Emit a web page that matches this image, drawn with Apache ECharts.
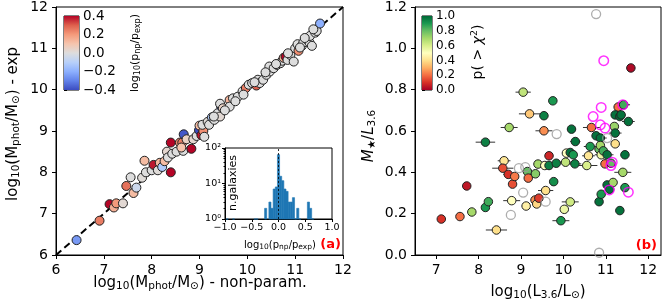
<!DOCTYPE html>
<html><head><meta charset="utf-8">
<script src="https://cdn.jsdelivr.net/npm/echarts@6/dist/echarts.min.js"></script>
<style>html,body{margin:0;padding:0;background:#fff}#c{width:665px;height:304px}</style>
</head><body><div id="c"></div>
<script>
// ---------- Panel (a): photometric masses ----------
const leftX = [6.43,6.91,7.12,7.21,7.26,7.40,7.47,7.56,7.62,7.68,7.80,7.85,7.88,8.00,8.04,8.13,8.17,8.22,8.27,8.32,8.34,8.40,8.40,8.43,8.52,8.59,8.64,8.67,8.66,8.62,8.73,8.83,8.87,8.94,8.99,9.00,9.04,9.08,9.10,9.06,9.17,9.20,9.26,9.31,9.38,9.43,9.45,9.43,9.49,9.63,9.63,9.70,9.80,9.90,9.97,10.03,10.10,10.19,10.22,10.26,10.33,10.40,10.47,10.46,10.55,10.62,10.69,10.73,10.76,10.80,10.84,10.90,10.97,11.00,11.05,11.07,11.14,11.17,11.24,11.30,11.31,11.35,11.42,11.45,11.52,11.38,9.53,9.75,10.15,10.60,10.85,11.10,11.20,9.92,9.30,10.38];
const leftY = [6.36,6.83,7.23,7.15,7.25,7.25,7.67,7.88,7.50,7.63,7.87,8.28,8.00,8.05,8.18,8.05,8.23,8.13,8.27,8.50,8.36,8.72,8.00,8.45,8.50,8.72,8.72,8.92,8.52,8.60,8.80,8.57,8.80,8.88,9.02,9.13,8.90,9.00,8.86,9.15,9.22,9.15,9.33,9.27,9.43,9.35,9.60,9.66,9.55,9.75,9.59,9.79,9.83,9.96,10.04,10.12,10.16,10.10,10.24,10.16,10.24,10.36,10.44,10.56,10.52,10.60,10.64,10.70,10.77,10.80,10.72,10.84,10.68,11.00,11.10,10.94,11.06,11.14,11.22,11.14,11.30,11.06,11.38,11.42,11.60,11.46,9.50,9.72,10.18,10.62,10.88,11.02,11.25,9.88,9.35,10.42];
const leftC = [-0.25,0.25,0.40,0.15,0.20,0.02,0.27,0.00,0.12,-0.05,0.01,0.12,0.00,0.00,0.38,0.01,0.13,-0.12,0.12,0.03,0.00,0.40,0.40,0.00,0.00,0.22,0.25,-0.38,0.00,0.10,0.05,0.40,0.03,0.00,-0.40,0.12,0.38,0.22,0.00,0.00,0.01,0.00,-0.12,0.00,0.00,0.02,-0.35,0.00,0.05,0.14,0.00,0.00,0.00,0.00,0.25,0.00,0.00,0.30,0.00,0.00,0.00,0.00,0.00,0.00,0.00,0.00,0.00,0.00,0.15,0.40,0.00,0.00,0.00,0.00,0.00,0.22,0.00,0.00,0.00,0.00,0.00,0.00,0.00,0.00,-0.20,0.00,0.00,0.00,0.00,0.00,0.00,0.00,0.00,0.00,0.00,0.00];
const oneToOne = [6, 12];
const leftTicks = [6,7,8,9,10,11,12];

// Inset histogram of log10(p_np/p_exp)
const histBinStart = [-0.98,-0.86,-0.46,-0.42,-0.26,-0.18,-0.14,-0.10,-0.06,-0.02,0.02,0.06,0.10,0.14,0.18,0.22,0.26,0.30,0.34,0.38,0.54,0.58,0.62];
const histCount    = [1,1,1,1,2,3,2,7,8,65,16,12,7,6,3,3,4,1,2,1,3,2,1];
const histBinWidth = 0.04;
const insetXTicks = [-1.0,-0.5,0.0,0.5,1.0];

// ---------- Panel (b): M/L vs luminosity ----------
const rightX = [7.12,7.56,7.72,7.84,8.16,8.23,8.16,8.42,8.60,8.57,8.70,8.80,8.85,8.72,8.78,9.05,9.20,9.15,9.17,9.12,9.33,9.37,9.42,9.34,9.40,9.56,9.54,9.54,9.58,9.66,9.66,9.83,9.77,9.75,9.94,10.02,10.16,10.05,10.07,10.16,10.23,10.27,10.19,10.28,10.55,10.59,10.66,10.63,10.77,10.87,10.84,10.87,10.89,10.94,11.03,10.98,10.84,10.89,11.03,11.09,11.17,11.12,11.20,11.22,11.22,11.29,11.22,11.33,11.36,11.42,11.53,11.45,11.40,11.45,11.33,11.59];
const rightY = [0.174,0.186,0.334,0.208,0.230,0.258,0.546,0.121,0.456,0.420,0.390,0.343,0.380,0.617,0.263,0.788,0.683,0.404,0.372,0.237,0.266,0.247,0.275,0.393,0.440,0.433,0.601,0.674,0.312,0.480,0.433,0.444,0.355,0.746,0.166,0.221,0.257,0.449,0.493,0.496,0.485,0.441,0.609,0.549,0.433,0.480,0.617,0.525,0.577,0.566,0.512,0.530,0.485,0.504,0.485,0.441,0.258,0.294,0.339,0.318,0.351,0.444,0.622,0.590,0.538,0.716,0.678,0.670,0.678,0.727,0.646,0.485,0.400,0.326,0.215,0.905];
const rightP = [0.10,0.20,0.05,0.70,0.90,0.85,0.95,0.40,0.42,0.15,0.10,0.15,0.22,0.70,0.50,0.65,0.35,0.80,0.20,0.45,0.25,0.38,0.12,0.75,0.70,0.50,0.25,0.95,0.40,0.08,0.95,0.95,0.92,0.90,0.90,0.55,0.62,0.65,0.50,0.98,0.90,0.95,0.98,0.98,0.60,0.42,0.20,0.90,0.98,0.98,0.80,0.70,0.55,0.85,0.98,0.20,0.98,0.90,0.98,0.98,0.70,0.80,0.72,0.98,0.40,0.20,0.98,0.98,0.98,0.85,0.98,0.98,0.70,0.90,0.98,0.02];
const rightErr = [0.05,0.05,0.05,0.05,0.08,0.08,0.23,0.25,0.15,0.25,0.12,0.08,0.10,0.20,0.20,0.18,0.25,0.12,0.10,0.10,0.10,0.10,0.08,0.10,0.10,0.15,0.20,0.10,0.18,0.10,0.10,0.10,0.10,0.10,0.20,0.10,0.20,0.15,0.10,0.15,0.10,0.15,0.10,0.12,0.25,0.15,0.20,0.15,0.10,0.15,0.10,0.10,0.15,0.10,0.15,0.10,0.05,0.05,0.10,0.10,0.10,0.10,0.10,0.15,0.10,0.10,0.10,0.10,0.10,0.15,0.15,0.10,0.20,0.10,0.10,0.10];
const grayX = [10.77,8.76,9.84,9.05,8.95,9.10,9.58,11.03,10.84];
const grayY = [1.166,0.194,0.585,0.302,0.420,0.425,0.258,0.566,0.011];
const magX = [10.95,10.89,10.70,10.87,10.98,11.15,11.12,11.08,11.40,11.53];
const magY = [0.940,0.714,0.670,0.630,0.614,0.449,0.433,0.315,0.727,0.304];
const rightXTicks = [7,8,9,10,11,12];

// ---------- colour maps ----------
const coolwarm = ['#3b4cc0','#6282ea','#8db0fe','#b8d0f9','#dddddd','#f5c4ad','#f49a7b','#de604d','#b40426'];
const rdylgn = ['#a50026','#d73027','#f46d43','#fdae61','#fee08b','#ffffbf','#d9ef8b','#a6d96a','#66bd63','#1a9850','#006837'];

const FONT = 'DejaVu Sans';
const chart = echarts.init(document.getElementById('c'), null, {renderer:'canvas'});

function gradient(colors){
  return new echarts.graphic.LinearGradient(0,1,0,0, colors.map((c,i)=>({offset:i/(colors.length-1), color:c})));
}
const minus = v => String(v).replace('-', '\u2212');
const baseAxis = (extra) => Object.assign({
  axisLine:{show:true, onZero:false, lineStyle:{color:'#000', width:1}},
  axisTick:{show:true, inside:false, length:4, lineStyle:{color:'#000', width:1}},
  splitLine:{show:false},
  axisLabel:{color:'#000', fontFamily:FONT, fontSize:14, margin:8}
}, extra);

const sub = (fs) => ({fontSize:fs, fontFamily:FONT, fill:'#000', lineHeight:fs, verticalAlign:'bottom'});
const sup = (fs) => ({fontSize:fs, fontFamily:FONT, fill:'#000', lineHeight:fs, verticalAlign:'top'});
const nrm = (fs, lh) => ({fontSize:fs, fontFamily:FONT, fill:'#000', lineHeight:lh});
const it  = (fs, lh) => ({fontSize:fs, fontFamily:FONT, fontStyle:'italic', fill:'#000', lineHeight:lh});
function label(x, y, text, rich, rot, extra){
  return Object.assign({type:'text', x:x, y:y, rotation:rot||0, z:100,
    style:{text:text, rich:rich, align:'center', verticalAlign:'middle', fill:'#000'}}, extra||{});
}

const option = {
  animation:false,
  backgroundColor:'#fff',
  grid:[
    {left:56, top:7, width:287, height:248, show:true, borderColor:'#000', borderWidth:1, backgroundColor:'transparent'},
    {left:415, top:7, width:246, height:248, show:true, borderColor:'#000', borderWidth:1, backgroundColor:'transparent'},
    {left:225, top:148, width:107, height:71, show:true, borderColor:'#000', borderWidth:1, backgroundColor:'#fff', z:5},
    {left:64, top:16, width:15, height:74, show:true, borderColor:'#000', borderWidth:1},
    {left:422, top:16, width:10, height:74, show:true, borderColor:'#000', borderWidth:1}
  ],
  xAxis:[
    baseAxis({gridIndex:0, type:'value', min:6, max:12, interval:1}),
    baseAxis({gridIndex:1, type:'value', min:6.5, max:12.3,
      axisTick:{show:true, length:4, lineStyle:{color:'#000'}, customValues:rightXTicks},
      axisLabel:{color:'#000', fontFamily:FONT, fontSize:14, margin:8, customValues:rightXTicks}}),
    baseAxis({gridIndex:2, type:'value', min:-1, max:1, interval:0.5, z:6,
      axisTick:{show:true, length:3, lineStyle:{color:'#000'}},
      axisLabel:{color:'#000', fontFamily:FONT, fontSize:9.5, margin:4, formatter:v=>minus(v.toFixed(1))}}),
    {gridIndex:3, type:'value', min:0, max:1, show:false},
    {gridIndex:4, type:'value', min:0, max:1, show:false}
  ],
  yAxis:[
    baseAxis({gridIndex:0, type:'value', min:6, max:12, interval:1}),
    baseAxis({gridIndex:1, type:'value', min:0, max:1.2, interval:0.2, axisLabel:{color:'#000', fontFamily:FONT, fontSize:14, margin:8, formatter:v=>v.toFixed(1)}}),
    baseAxis({gridIndex:2, type:'log', logBase:10, min:1, max:100, z:6,
      axisTick:{show:true, length:3, lineStyle:{color:'#000'}},
      minorTick:{show:true, splitNumber:9, length:1.5, lineStyle:{color:'#000'}},
      axisLabel:{color:'#000', fontFamily:FONT, fontSize:9.5, margin:4,
        formatter:v=>'10'+({1:'\u2070',10:'\u00b9',100:'\u00b2'})[Math.round(v)]}}),
    {gridIndex:3, type:'value', position:'right', min:-0.4, max:0.4, interval:0.2,
      axisLine:{show:false}, splitLine:{show:false},
      axisTick:{show:true, length:3, lineStyle:{color:'#000'}},
      axisLabel:{color:'#000', fontFamily:FONT, fontSize:13.5, margin:4, formatter:v=>minus(v.toFixed(1))}},
    {gridIndex:4, type:'value', position:'right', min:0, max:1, interval:0.2,
      axisLine:{show:false}, splitLine:{show:false},
      axisTick:{show:true, length:3, lineStyle:{color:'#000'}},
      axisLabel:{color:'#000', fontFamily:FONT, fontSize:12, margin:4, formatter:v=>v.toFixed(1)}}
  ],
  visualMap:[
    {type:'continuous', show:false, seriesIndex:1, dimension:2, min:-0.4, max:0.4, inRange:{color:coolwarm}},
    {type:'continuous', show:false, seriesIndex:6, dimension:2, min:0, max:1, inRange:{color:rdylgn}}
  ],
  series:[
    {type:'line', xAxisIndex:0, yAxisIndex:0, data:[[oneToOne[0],oneToOne[0]],[oneToOne[1],oneToOne[1]]],
      symbol:'none', lineStyle:{color:'#000', width:2, type:[7,4]}, z:2, silent:true},
    {type:'scatter', xAxisIndex:0, yAxisIndex:0, data:leftX.map((x,i)=>[x,leftY[i],leftC[i]]),
      symbolSize:9, itemStyle:{borderColor:'#222', borderWidth:1, opacity:1}, z:3},
    {type:'custom', xAxisIndex:2, yAxisIndex:2, data:histBinStart.map((x,i)=>[x,histCount[i]]), z:7,
      renderItem:(params, api)=>{
        const x0=api.value(0), c=api.value(1);
        const p0=api.coord([x0,c]), p1=api.coord([x0+histBinWidth,1]);
        return {type:'rect', shape:{x:p0[0], y:p0[1], width:p1[0]-p0[0], height:p1[1]-p0[1]},
          style:{fill:'#1f77b4', stroke:'#1f77b4', lineWidth:0.6}};
      }},
    {type:'line', xAxisIndex:2, yAxisIndex:2, data:[[0,1],[0,100]], symbol:'none', z:8,
      lineStyle:{color:'#000', width:0.8, type:[2,2]}},
    {type:'custom', xAxisIndex:3, yAxisIndex:3, data:[[0,-0.4]],
      renderItem:(params, api)=>{
        const a=api.coord([0,-0.4]), b=api.coord([1,0.4]);
        return {type:'rect', shape:{x:a[0], y:b[1], width:b[0]-a[0], height:a[1]-b[1]}, style:{fill:gradient(coolwarm)}};
      }},
    {type:'custom', xAxisIndex:1, yAxisIndex:1, data:rightX.map((x,i)=>[x,rightY[i],rightErr[i]]), z:2,
      renderItem:(params, api)=>{
        const x=api.value(0), y=api.value(1), e=api.value(2);
        const a=api.coord([x-e,y]), b=api.coord([x+e,y]);
        return {type:'line', shape:{x1:a[0], y1:a[1], x2:b[0], y2:b[1]}, style:{stroke:'#333', lineWidth:1}};
      }},
    {type:'scatter', xAxisIndex:1, yAxisIndex:1, data:rightX.map((x,i)=>[x,rightY[i],rightP[i]]),
      symbolSize:8.5, itemStyle:{borderColor:'#222', borderWidth:1, opacity:1}, z:3},
    {type:'scatter', xAxisIndex:1, yAxisIndex:1, data:grayX.map((x,i)=>[x,grayY[i]]),
      symbolSize:9, itemStyle:{color:'rgba(0,0,0,0)', borderColor:'#999', borderWidth:1.3}, z:4},
    {type:'scatter', xAxisIndex:1, yAxisIndex:1, data:magX.map((x,i)=>[x,magY[i]]),
      symbolSize:9.5, itemStyle:{color:'rgba(0,0,0,0)', borderColor:'#ff00ff', borderWidth:1.5}, z:4},
    {type:'custom', xAxisIndex:4, yAxisIndex:4, data:[[0,0]],
      renderItem:(params, api)=>{
        const a=api.coord([0,0]), b=api.coord([1,1]);
        return {type:'rect', shape:{x:a[0], y:b[1], width:b[0]-a[0], height:a[1]-b[1]}, style:{fill:gradient(rdylgn)}};
      }}
  ],
  graphic:[
    label(200, 283, '{n|log}{s|10}{n|(M}{s|phot}{n|/M}{s|\u2299}{n|) - non-param.}', {n:nrm(15,18), s:sub(10.5)}),
    label(13, 124, '{n|log}{s|10}{n|(M}{s|phot}{n|/M}{s|\u2299}{n|) - exp}', {n:nrm(15,18), s:sub(10.5)}, Math.PI/2),
    label(538, 292, '{n|log}{s|10}{n|(L}{s|3.6}{n|/L}{s|\u2299}{n|)}', {n:nrm(15,18), s:sub(10.5)}),
    label(369, 136, '{i|M}{s|\u2605}{n|/}{i|L}{s|3.6}', {n:nrm(15,18), i:it(15,18), s:sub(10.5)}, Math.PI/2),
    label(135, 53, '{n|log}{s|10}{n|(p}{s|np}{n|/p}{s|exp}{n|)}', {n:nrm(11,13), s:sub(8)}, Math.PI/2),
    label(478, 52, '{n|p( > }{i|\u03c7}{p|2}{n|)}', {n:nrm(14,17), i:it(14,17), p:sup(9.5)}, Math.PI/2),
    label(280, 245, '{n|log}{s|10}{n|(p}{s|np}{n|/p}{s|exp}{n|)}', {n:nrm(10,12), s:sub(7.5)}),
    label(233, 183, '{n|n.galaxies}', {n:nrm(11,13)}, Math.PI/2),
    {type:'text', x:341, y:245, z:100, style:{text:'(a)', fill:'#ff0000', font:'bold 13px "DejaVu Sans"', align:'right', verticalAlign:'middle'}},
    {type:'text', x:657, y:246, z:100, style:{text:'(b)', fill:'#ff0000', font:'bold 13px "DejaVu Sans"', align:'right', verticalAlign:'middle'}}
  ]
};
chart.setOption(option);
</script>
</body></html>
